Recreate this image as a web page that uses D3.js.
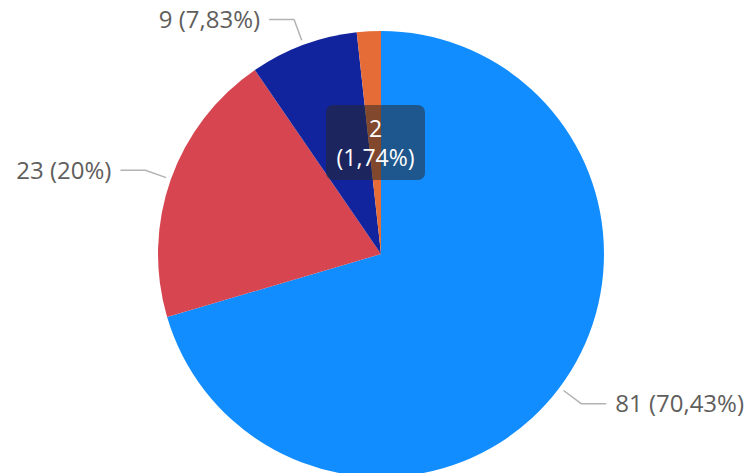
<!DOCTYPE html>
<html>
<head>
<meta charset="utf-8">
<script src="https://cdn.jsdelivr.net/npm/d3@7"></script>
<style>
  html, body { margin: 0; padding: 0; background: #fff; overflow: hidden; }
  svg { display: block; }
</style>
</head>
<body>
<svg id="chart" width="747" height="473"></svg>
<script>
// Slice values, in drawing order (clockwise from 12 o'clock)
const categories = ["A", "B", "C", "D"];
const values = [81, 23, 9, 2];
const percentLabels = ["70,43%", "20%", "7,83%", "1,74%"];
const colors = ["#118DFF", "#D64550", "#12239E", "#E66C37"];
// Which slice carries the hover tooltip instead of an outside label
const tooltipIndex = 3;

const width = 747, height = 473;
const cx = 381, cy = 254, radius = 223;
const font = "'Segoe UI', 'Open Sans', 'Noto Sans', sans-serif";

const svg = d3.select("#chart");
const g = svg.append("g").attr("transform", `translate(${cx},${cy})`);

const pie = d3.pie().sort(null).value(d => d.value).startAngle(0).endAngle(2 * Math.PI);
const data = categories.map((c, i) => ({ cat: c, value: values[i], pct: percentLabels[i], color: colors[i] }));
const arcs = pie(data);

const arc = d3.arc().innerRadius(0).outerRadius(radius);
g.selectAll("path.slice")
  .data(arcs)
  .join("path")
  .attr("class", "slice")
  .attr("d", arc)
  .attr("fill", d => d.data.color);

// Leader lines and outside labels
const lineStart = d3.arc().innerRadius(radius + 5).outerRadius(radius + 5);
const lineElbow = d3.arc().innerRadius(radius + 27).outerRadius(radius + 27);
const labelled = arcs.filter((d, i) => i !== tooltipIndex);

labelled.forEach(d => {
  const mid = (d.startAngle + d.endAngle) / 2;
  const side = Math.sin(mid) >= 0 ? 1 : -1;
  const p0 = lineStart.centroid(d);
  const p1 = lineElbow.centroid(d);
  const p2 = [p1[0] + side * 25, p1[1]];
  g.append("polyline")
    .attr("points", [p0, p1, p2].map(p => p.join(",")).join(" "))
    .attr("fill", "none")
    .attr("stroke", "#b3b3b3")
    .attr("stroke-width", 1.5);
  g.append("text")
    .attr("x", p2[0] + side * 9)
    .attr("y", p2[1])
    .attr("dy", "0.35em")
    .attr("text-anchor", side > 0 ? "start" : "end")
    .attr("font-family", font)
    .attr("font-size", 24)
    .attr("fill", "#605E5C")
    .text(`${d.data.value} (${d.data.pct})`);
});

// Tooltip box for the small slice
const tip = arcs[tooltipIndex];
const tipW = 99, tipH = 75;
const tipX = -55, tipY = -149;
const tg = g.append("g").attr("transform", `translate(${tipX},${tipY})`);
tg.append("rect")
  .attr("width", tipW)
  .attr("height", tipH)
  .attr("rx", 7)
  .attr("fill", "rgba(40,40,40,0.53)");
tg.append("text")
  .attr("x", tipW / 2)
  .attr("y", 32)
  .attr("text-anchor", "middle")
  .attr("font-family", font)
  .attr("font-size", 23)
  .attr("fill", "#ffffff")
  .text(tip.data.value);
tg.append("text")
  .attr("x", tipW / 2)
  .attr("y", 61)
  .attr("text-anchor", "middle")
  .attr("font-family", font)
  .attr("font-size", 23)
  .attr("fill", "#ffffff")
  .text(`(${tip.data.pct})`);
</script>
</body>
</html>
